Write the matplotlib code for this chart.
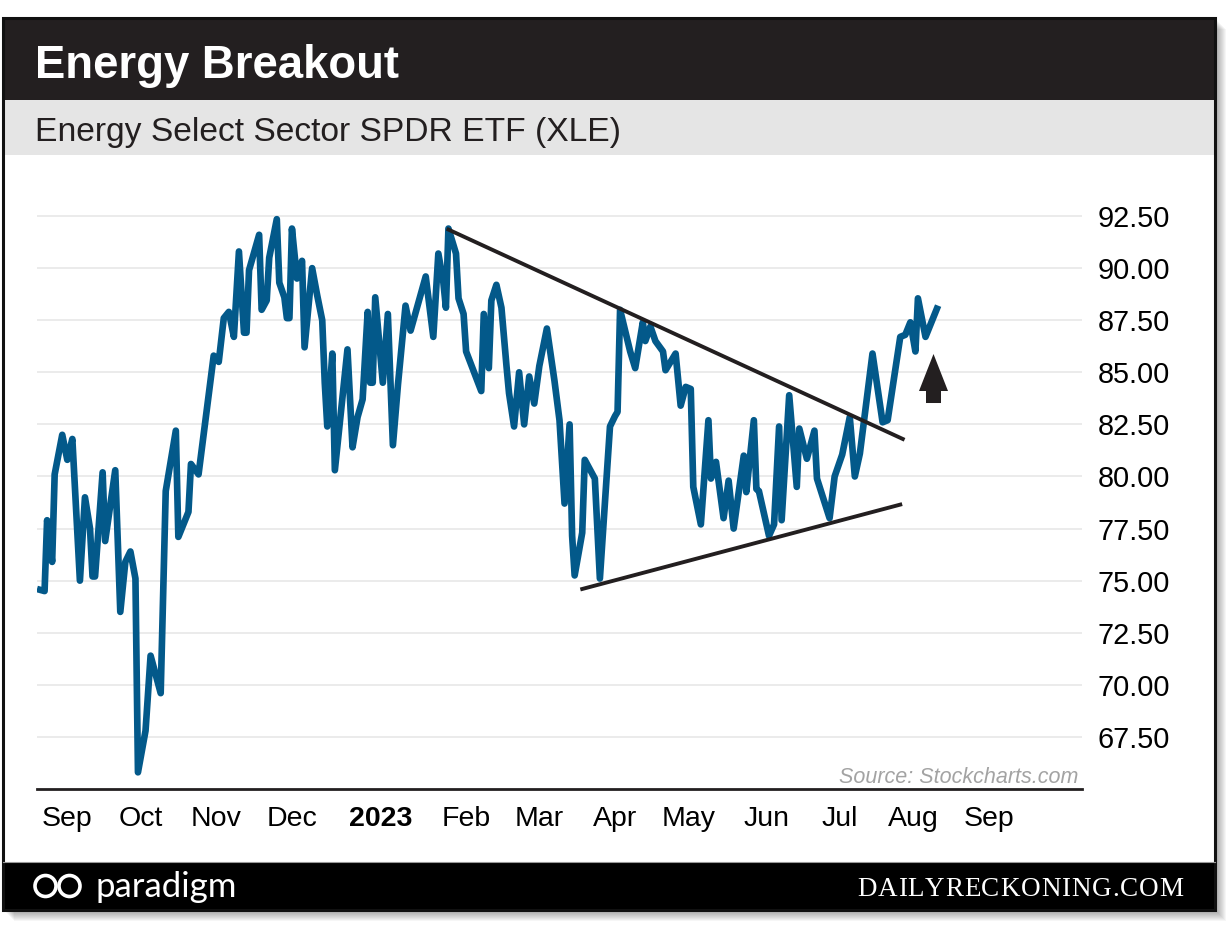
"""Energy Breakout: XLE price with the descending triangle it broke out of."""

import datetime as dt

import matplotlib
matplotlib.use("Agg")
import matplotlib.pyplot as plt
from matplotlib.patches import Rectangle, Circle
from matplotlib.path import Path

W, H, DPI = 1229, 926, 100

TITLE = "Energy Breakout"
SUBTITLE = "Energy Select Sector SPDR ETF (XLE)"
SOURCE = "Source: Stockcharts.com"

# XLE closes (roughly every 2-3 sessions)
PRICE_DATES = [
    "2022-08-20", "2022-08-23", "2022-08-24", "2022-08-26", "2022-08-27", "2022-08-30",
    "2022-09-01", "2022-09-03", "2022-09-06", "2022-09-08", "2022-09-10", "2022-09-11",
    "2022-09-12", "2022-09-15", "2022-09-16", "2022-09-20", "2022-09-22", "2022-09-24",
    "2022-09-26", "2022-09-28", "2022-09-29", "2022-10-02", "2022-10-04", "2022-10-06",
    "2022-10-08", "2022-10-10", "2022-10-14", "2022-10-15", "2022-10-19", "2022-10-20",
    "2022-10-23", "2022-10-29", "2022-10-31", "2022-11-02", "2022-11-04", "2022-11-06",
    "2022-11-08", "2022-11-10", "2022-11-11", "2022-11-12", "2022-11-16", "2022-11-17",
    "2022-11-19", "2022-11-20", "2022-11-23", "2022-11-24", "2022-11-26", "2022-11-27",
    "2022-11-28", "2022-11-29", "2022-12-01", "2022-12-03", "2022-12-04", "2022-12-07",
    "2022-12-09", "2022-12-11", "2022-12-12", "2022-12-13", "2022-12-15", "2022-12-16",
    "2022-12-21", "2022-12-23", "2022-12-25", "2022-12-27", "2022-12-29", "2022-12-30",
    "2022-12-31", "2023-01-01", "2023-01-04", "2023-01-06", "2023-01-08", "2023-01-10",
    "2023-01-13", "2023-01-15", "2023-01-21", "2023-01-24", "2023-01-26", "2023-01-28",
    "2023-01-29", "2023-01-30", "2023-02-02", "2023-02-03", "2023-02-05", "2023-02-06",
    "2023-02-12", "2023-02-13", "2023-02-15", "2023-02-16", "2023-02-18", "2023-02-20",
    "2023-02-22", "2023-02-23", "2023-02-25", "2023-02-27", "2023-03-01", "2023-03-03",
    "2023-03-05", "2023-03-07", "2023-03-10", "2023-03-13", "2023-03-15", "2023-03-17",
    "2023-03-19", "2023-03-20", "2023-03-21", "2023-03-24", "2023-03-25", "2023-03-29",
    "2023-03-31", "2023-04-04", "2023-04-06", "2023-04-07", "2023-04-08", "2023-04-12",
    "2023-04-14", "2023-04-17", "2023-04-18", "2023-04-20", "2023-04-22", "2023-04-25",
    "2023-04-26", "2023-04-30", "2023-05-02", "2023-05-04", "2023-05-06", "2023-05-07",
    "2023-05-10", "2023-05-13", "2023-05-14", "2023-05-16", "2023-05-19", "2023-05-21",
    "2023-05-23", "2023-05-27", "2023-05-28", "2023-05-31", "2023-06-01", "2023-06-02",
    "2023-06-06", "2023-06-08", "2023-06-10", "2023-06-11", "2023-06-14", "2023-06-17",
    "2023-06-18", "2023-06-21", "2023-06-24", "2023-06-25", "2023-06-30", "2023-07-02",
    "2023-07-05", "2023-07-08", "2023-07-10", "2023-07-12", "2023-07-17", "2023-07-21",
    "2023-07-23", "2023-07-28", "2023-07-30", "2023-08-01", "2023-08-03", "2023-08-04",
    "2023-08-07", "2023-08-12",
]
PRICE_CLOSE = [
    74.6, 74.5, 77.9, 75.9, 80.1, 82.0,
    80.8, 81.8, 75.0, 79.0, 77.5, 75.2,
    75.2, 80.2, 76.9, 80.3, 73.5, 75.9,
    76.4, 75.1, 65.8, 67.8, 71.4, 70.5,
    69.6, 79.3, 82.2, 77.1, 78.3, 80.6,
    80.1, 85.8, 85.5, 87.6, 87.9, 86.7,
    90.8, 86.9, 86.9, 89.9, 91.6, 88.0,
    88.45, 90.5, 92.35, 89.3, 88.6, 87.6,
    87.6, 91.9, 89.5, 90.35, 86.2, 90.0,
    88.7, 87.5, 84.5, 82.4, 85.9, 80.3,
    86.1, 81.4, 82.85, 83.7, 87.9, 84.5,
    84.5, 88.6, 84.5, 87.8, 81.5, 84.4,
    88.2, 87.0, 89.6, 86.7, 90.7, 89.3,
    88.1, 91.9, 90.7, 88.55, 87.8, 86.0,
    84.1, 87.8, 85.2, 88.45, 89.2, 88.1,
    85.3, 84.0, 82.4, 85.0, 82.5, 84.8,
    83.5, 85.3, 87.1, 84.6, 82.7, 78.7,
    82.5, 77.15, 75.25, 77.3, 80.8, 79.9,
    75.1, 82.4, 82.9, 83.1, 88.0, 86.0,
    85.2, 87.4, 86.5, 87.2, 86.5, 86.0,
    85.1, 85.9, 83.4, 84.3, 84.2, 79.5,
    77.7, 82.7, 79.9, 80.7, 78.0, 79.8,
    77.5, 81.0, 79.25, 82.7, 79.4, 79.3,
    77.15, 77.7, 82.4, 77.9, 83.9, 79.5,
    82.3, 80.85, 82.2, 79.9, 78.0, 80.0,
    81.05, 82.85, 80.0, 81.1, 85.9, 82.6,
    82.7, 86.7, 86.8, 87.4, 86.0, 88.55,
    86.7, 88.2,
]

# hand-drawn triangle
UPPER_TREND_DATES = ["2023-01-30", "2023-07-29"]
UPPER_TREND_VALUES = [91.85, 81.8]
LOWER_TREND_DATES = ["2023-03-24", "2023-07-28"]
LOWER_TREND_VALUES = [74.6, 78.65]

ARROW_DATE = "2023-08-10"
ARROW_VALUE = 84.75

Y_TICKS = [67.5, 70.0, 72.5, 75.0, 77.5, 80.0, 82.5, 85.0, 87.5, 90.0, 92.5]
# month labels sit where the original chart put them (not exactly on the 1st)
MONTH_TICKS = ["2022-09-01", "2022-09-30", "2022-10-30", "2022-11-29", "2023-01-03",
               "2023-02-06", "2023-03-07", "2023-04-06", "2023-05-05", "2023-06-05",
               "2023-07-04", "2023-08-02", "2023-09-01"]
MONTH_LABELS = ["Sep", "Oct", "Nov", "Dec", "2023", "Feb", "Mar", "Apr", "May",
                "Jun", "Jul", "Aug", "Sep"]

X_RANGE = ["2022-08-20", "2023-10-08"]
Y_RANGE = [65.0, 93.75]

INK = "#231f20"
BLUE = "#03598a"
SANS = "Liberation Sans"


def d(s):
    return dt.datetime.fromisoformat(s)


fig = plt.figure(figsize=(W / DPI, H / DPI), dpi=DPI)

# ---- card / header / footer drawn in pixel coordinates ----
deco = fig.add_axes([0, 0, 1, 1])
deco.set_xlim(0, W)
deco.set_ylim(H, 0)
deco.axis("off")

for k in range(1, 12):
    deco.add_patch(Rectangle((3 + k, 18 + k), 1212, 892, facecolor="black",
                             alpha=0.035, edgecolor="none"))
deco.add_patch(Rectangle((3, 18), 1212, 892, facecolor="white", edgecolor="none"))
deco.add_patch(Rectangle((3, 18), 1212, 82, facecolor=INK, edgecolor="none"))
deco.add_patch(Rectangle((3, 100), 1212, 55, facecolor="#e5e5e5", edgecolor="none"))
deco.add_patch(Rectangle((3, 862), 1212, 48, facecolor="black", edgecolor="none"))
deco.plot([3, 1215], [862, 862], color="#9a9a9a", lw=0.8)
deco.add_patch(Rectangle((3, 18), 1212, 892, facecolor="none", edgecolor="#111111", lw=2.2))

deco.text(35, 78, TITLE, color="white", fontsize=32.8, fontweight="bold",
          family=SANS, va="baseline", ha="left")
deco.text(35, 141, SUBTITLE, color=INK, fontsize=24.2, family=SANS,
          va="baseline", ha="left")
deco.text(1078, 783, SOURCE, color="#a3a3a3", fontsize=15.5, style="italic",
          family=SANS, va="baseline", ha="right")

# paradigm logo: two loops + wordmark
for cx in (45.5, 69.5):
    deco.add_patch(Circle((cx, 886), 10.5, facecolor="none", edgecolor="white", lw=2.6))
deco.text(95, 897, "paradigm", color="white", fontsize=25, family="Lato",
          va="baseline", ha="left")

# letter-spaced site name
renderer = fig.canvas.get_renderer()
site = "DAILYRECKONING.COM"
chars = [deco.text(0, 896, ch, color="white", fontsize=19.5, family="Liberation Serif",
                   va="baseline", ha="left") for ch in site]
widths = [c.get_window_extent(renderer).width for c in chars]
gap = (1183 - 857 - sum(widths)) / (len(site) - 1)
x = 857
for c, w in zip(chars, widths):
    c.set_x(x)
    x += w + gap

# ---- price chart ----
ax = fig.add_axes([37 / W, 1 - 789 / H, (1082 - 37) / W, (789 - 190) / H])
ax.patch.set_visible(False)

ax.plot([d(s) for s in PRICE_DATES], PRICE_CLOSE, color=BLUE, lw=4.8,
        solid_joinstyle="round", solid_capstyle="butt", zorder=3)
ax.plot([d(s) for s in UPPER_TREND_DATES], UPPER_TREND_VALUES, color=INK, lw=2.8, zorder=4)
ax.plot([d(s) for s in LOWER_TREND_DATES], LOWER_TREND_VALUES, color=INK, lw=2.8, zorder=4)

arrow = Path([(0, 24.5), (14.5, -12.5), (7.5, -12.5), (7.5, -24.5), (-7.5, -24.5),
              (-7.5, -12.5), (-14.5, -12.5), (0, 24.5)],
             [Path.MOVETO] + [Path.LINETO] * 6 + [Path.CLOSEPOLY])
ax.plot([d(ARROW_DATE)], [ARROW_VALUE], marker=arrow, markersize=35.3,
        color=INK, markeredgewidth=0, zorder=5)

ax.set_xlim(d(X_RANGE[0]), d(X_RANGE[1]))
ax.set_ylim(*Y_RANGE)

ax.set_yticks(Y_TICKS)
ax.set_yticklabels([f"{v:.2f}" for v in Y_TICKS])
ax.yaxis.tick_right()
ax.set_xticks([d(s) for s in MONTH_TICKS])
ax.set_xticklabels(MONTH_LABELS)
ax.tick_params(axis="y", length=0, pad=11.5, labelsize=20.8, labelcolor="black")
ax.tick_params(axis="x", length=0, pad=12, labelsize=20.5, labelcolor="black")
for lbl in ax.get_xticklabels() + ax.get_yticklabels():
    lbl.set_family(SANS)
    if lbl.get_text() == "2023":
        lbl.set_fontweight("bold")

ax.set_axisbelow(True)
ax.yaxis.grid(True, color="#e6e6e6", lw=1.1)
for side in ("top", "right", "left"):
    ax.spines[side].set_visible(False)
ax.spines["bottom"].set_color(INK)
ax.spines["bottom"].set_linewidth(2.0)

fig.savefig("out.png", dpi=DPI)
